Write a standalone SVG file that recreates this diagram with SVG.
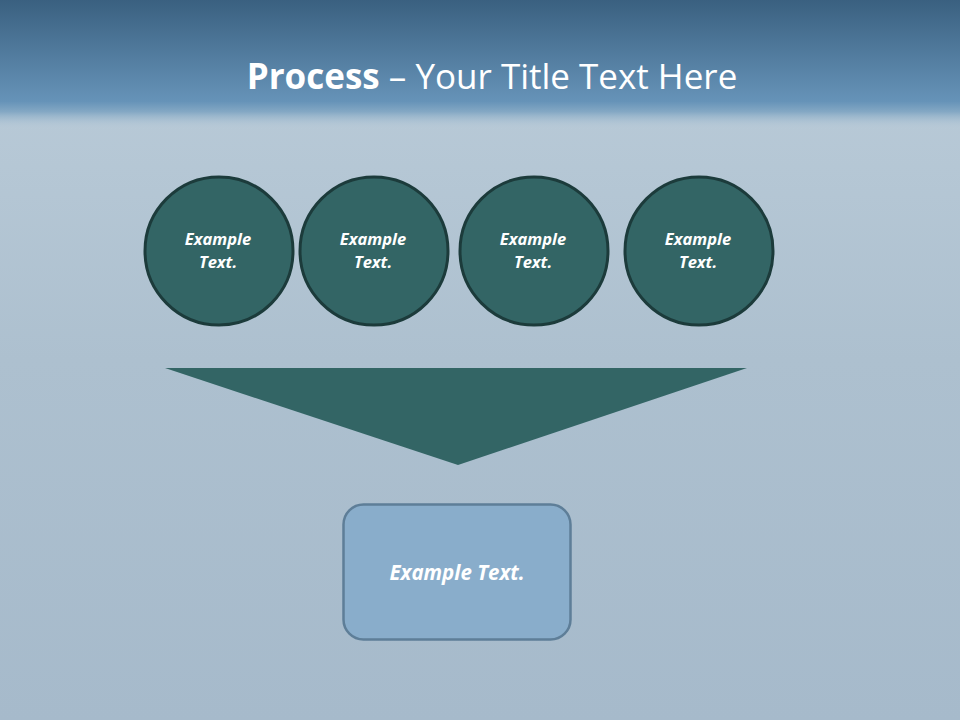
<svg xmlns="http://www.w3.org/2000/svg" width="960" height="720" viewBox="0 0 960 720">
<defs>
<linearGradient id="bg" x1="0" y1="0" x2="0" y2="1">
<stop offset="0" stop-color="#bccdda"/>
<stop offset="0.5" stop-color="#adc0cf"/>
<stop offset="1" stop-color="#a6bacb"/>
</linearGradient>
<linearGradient id="hdr" x1="0" y1="0" x2="0" y2="1">
<stop offset="0" stop-color="#3a6080"/>
<stop offset="0.78" stop-color="#6693b8"/>
<stop offset="0.86" stop-color="#84a8c4"/>
<stop offset="1" stop-color="#bccdda" stop-opacity="0"/>
</linearGradient>
<style>
.circ{fill:#336565;stroke:#1c3b3b;stroke-width:3}
.ct{font-family:"Open Sans","Liberation Sans",sans-serif;font-size:16.5px;font-weight:bold;font-style:italic;fill:#ffffff;text-anchor:middle}
</style>
</defs>
<rect x="0" y="0" width="960" height="720" fill="url(#bg)"/>
<rect x="0" y="0" width="960" height="130" fill="url(#hdr)"/>
<text x="492" y="89" font-family="'Open Sans','Liberation Sans',sans-serif" font-size="35" fill="#ffffff" text-anchor="middle"><tspan font-weight="bold">Process</tspan> – Your Title Text Here</text>
<g id="connectors">
<polygon points="165,368 747,368 458,465" fill="#336565"/>
</g>
<g id="node1"><circle class="circ" cx="219" cy="251" r="74"/><text class="ct" x="218" y="245">Example</text><text class="ct" x="218" y="268">Text.</text></g>
<g id="node2"><circle class="circ" cx="374" cy="251" r="74"/><text class="ct" x="373" y="245">Example</text><text class="ct" x="373" y="268">Text.</text></g>
<g id="node3"><circle class="circ" cx="534" cy="251" r="74"/><text class="ct" x="533" y="245">Example</text><text class="ct" x="533" y="268">Text.</text></g>
<g id="node4"><circle class="circ" cx="699" cy="251" r="74"/><text class="ct" x="698" y="245">Example</text><text class="ct" x="698" y="268">Text.</text></g>
<g id="node5"><rect x="343.5" y="504.5" width="227" height="135" rx="20" fill="#89adcb" stroke="#5e7e98" stroke-width="2.5"/><text x="457" y="580" font-family="'Open Sans','Liberation Sans',sans-serif" font-size="20.5" font-weight="bold" font-style="italic" fill="#ffffff" text-anchor="middle">Example Text.</text></g>
</svg>
